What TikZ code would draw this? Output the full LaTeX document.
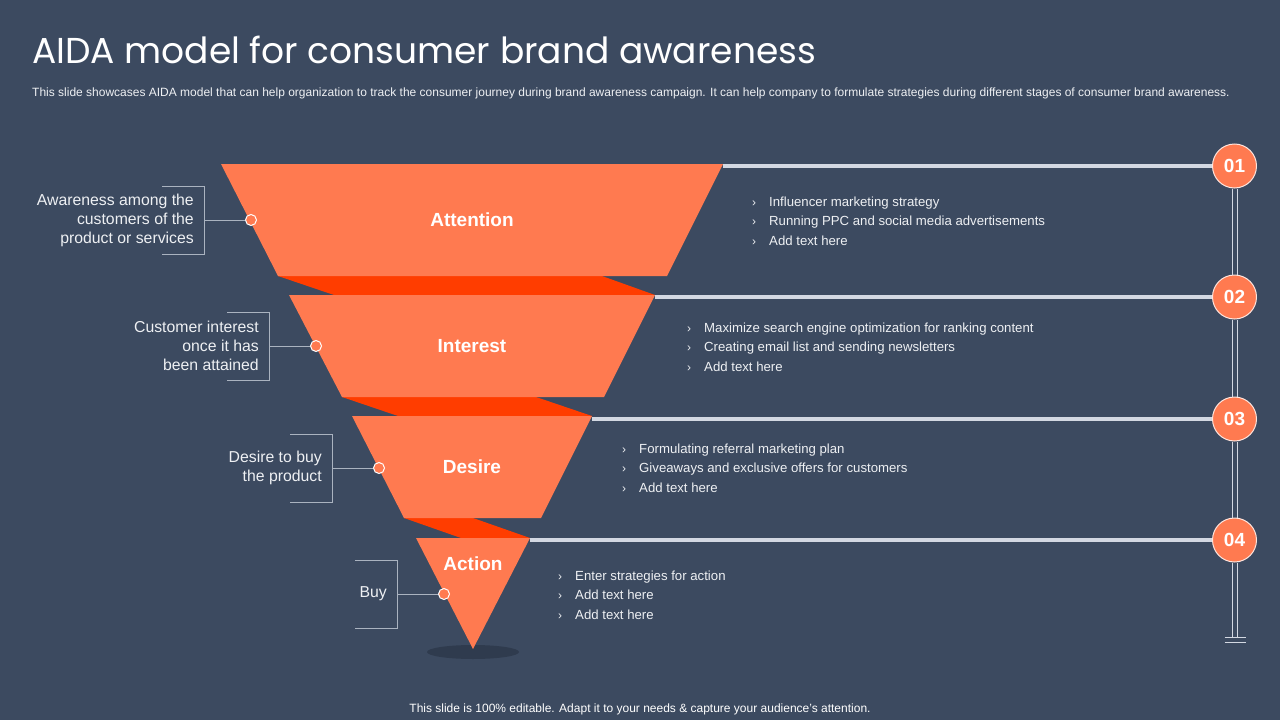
\documentclass[tikz,border=0pt]{standalone}
\usepackage{fontspec}
\setmainfont{Liberation Sans}
\newfontfamily\titlefont{Poppins}
\usetikzlibrary{positioning,calc}
\definecolor{bgblue}{HTML}{3C4A60}
\definecolor{funnel}{HTML}{FF7A50}
\definecolor{ribbon}{HTML}{FF3D00}
\definecolor{rail}{HTML}{D3D8E2}
\definecolor{floorshadow}{HTML}{2F3B4E}
\definecolor{txt}{HTML}{EEF0F3}
\definecolor{brk}{HTML}{AAB3C0}
\tikzset{
  stage/.style={fill=funnel},
  band/.style={fill=ribbon},
  stagetext/.style={text=white,font=\bfseries\fontsize{19}{19}\selectfont,inner sep=0pt},
  num/.style={circle,fill=funnel,draw=white!80!funnel,line width=1pt,minimum size=44pt,
    inner sep=0pt,text=white,font=\bfseries\fontsize{19}{19}\selectfont},
  dot/.style={circle,fill=funnel,draw=white,line width=1pt,minimum size=11pt,inner sep=0pt},
  railline/.style={draw=rail,line width=4pt},
  thinrail/.style={draw=rail,line width=0.9pt},
  bracket/.style={draw=brk,line width=0.9pt},
  note/.style={align=right,text=txt,font=\fontsize{15.8}{19}\selectfont,inner sep=0pt},
  bullets/.style={anchor=west,align=left,text=txt,font=\fontsize{13.2}{19.5}\selectfont,inner sep=0pt}
}
\newcommand{\itm}[1]{\makebox[17pt][l]{\fontsize{12}{12}\selectfont ›}#1}
\begin{document}
\begin{tikzpicture}[x=1pt,y=-1pt]
        % draw background
        \fill[bgblue] (0,0) rectangle (1280,720);
        \useasboundingbox (0,0) rectangle (1280,720);
        % draw title texts
        \node[anchor=base west,inner sep=0pt,text=white,font=\titlefont\fontsize{36}{36}\selectfont] (title) at (32,63) {AIDA model for consumer brand awareness};
        \node[anchor=base west,inner sep=0pt,text=txt,font=\fontsize{12}{12}\selectfont] (subtitle) at (32,96) {This slide showcases AIDA model that can help organization to track the consumer journey during brand awareness campaign. It can help company to formulate strategies during different stages of consumer brand awareness.};
        \node[anchor=base,inner sep=0pt,text=white,font=\fontsize{12}{12}\selectfont] (footer) at (640,712) {This slide is 100\% editable. Adapt it to your needs \& capture your audience’s attention.};
        % draw ribbons between stages
        \fill[band] (278,276) -- (602,276) -- (655,295) -- (334,295) -- cycle;
        \fill[band] (342,397) -- (536,397) -- (592,416) -- (398,416) -- cycle;
        \fill[band] (404,518) -- (473,518) -- (530,538) -- (461,538) -- cycle;
        % draw shadow below funnel
        \fill[floorshadow] (473,652) ellipse (46 and 7);
        % draw funnel stages
        \fill[stage] (221,164) -- (723,164) -- (667,276) -- (278,276) -- cycle;
        \fill[stage] (289,295) -- (655,295) -- (604,397) -- (342,397) -- cycle;
        \fill[stage] (352,416) -- (592,416) -- (541,518) -- (404,518) -- cycle;
        \fill[stage] (416,538) -- (530,538) -- (473,649) -- cycle;
        \node[stagetext] (attention) at (472,220) {Attention};
        \node[stagetext] (interest) at (472,346) {Interest};
        \node[stagetext] (desire) at (472,467) {Desire};
        \node[stagetext] (action) at (473,564) {Action};
        % draw numbered circles
        \foreach \y/\n in {166/01,297/02,419/03,540/04}
        \node[num] (n\n) at (1234.5,\y) {\n};
        \coordinate (foot) at (1234.5,637);
        \foreach \a/\b in {01/02,02/03,03/04}
        \draw[thinrail] ([xshift=-2.5pt]n\a.south) -- ([xshift=-2.5pt]n\b.north)
                        ([xshift=2.5pt]n\a.south) -- ([xshift=2.5pt]n\b.north);
        \draw[thinrail] ([xshift=-2.5pt]n04.south) -- ([xshift=-2.5pt]foot)
                        ([xshift=2.5pt]n04.south) -- ([xshift=2.5pt]foot);
        \draw[thinrail] ([xshift=-10pt]foot) -- ([xshift=11pt]foot)
                        ([xshift=-10pt,yshift=-5pt]foot) -- ([xshift=11pt,yshift=-5pt]foot);
        % draw rails from stages
        \coordinate (r1) at (723,166);
        \coordinate (r2) at (655,297);
        \coordinate (r3) at (592,419);
        \coordinate (r4) at (530,540);
        \foreach \i/\n in {1/01,2/02,3/03,4/04}
        \draw[railline] (r\i) -- (n\n);
        % draw bullet lists
        \node[bullets] (g1) at (752,221) {\itm{Influencer marketing strategy}\\\itm{Running PPC and social media advertisements}\\\itm{Add text here}};
        \node[bullets] (g2) at (687,347) {\itm{Maximize search engine optimization for ranking content}\\\itm{Creating email list and sending newsletters}\\\itm{Add text here}};
        \node[bullets] (g3) at (622,468) {\itm{Formulating referral marketing plan}\\\itm{Giveaways and exclusive offers for customers}\\\itm{Add text here}};
        \node[bullets] (g4) at (558,595) {\itm{Enter strategies for action}\\\itm{Add text here}\\\itm{Add text here}};
        % draw side notes with brackets
        \foreach \i/\bx/\by/\dx in {1/204/220/251,2/269/346/316,3/332/468/379,4/397/594/444}{
          \coordinate (k\i) at (\bx,\by);
          \node[dot] (d\i) at (\dx,\by) {};
          \draw[bracket] (k\i) ++(-42,-34) -- ++(42,0) -- ++(0,68) -- ++(-42,0);
          \draw[bracket] (k\i) -- (d\i);
        }
        \node[note, left=10pt of k1] (l1) {Awareness among the\\customers of the\\product or services};
        \node[note, left=10pt of k2] (l2) {Customer interest\\once it has\\been attained};
        \node[note, left=10pt of k3] (l3) {Desire to buy\\the product};
        \node[note, left=10pt of k4] (l4) {Buy};
\end{tikzpicture}
\end{document}
